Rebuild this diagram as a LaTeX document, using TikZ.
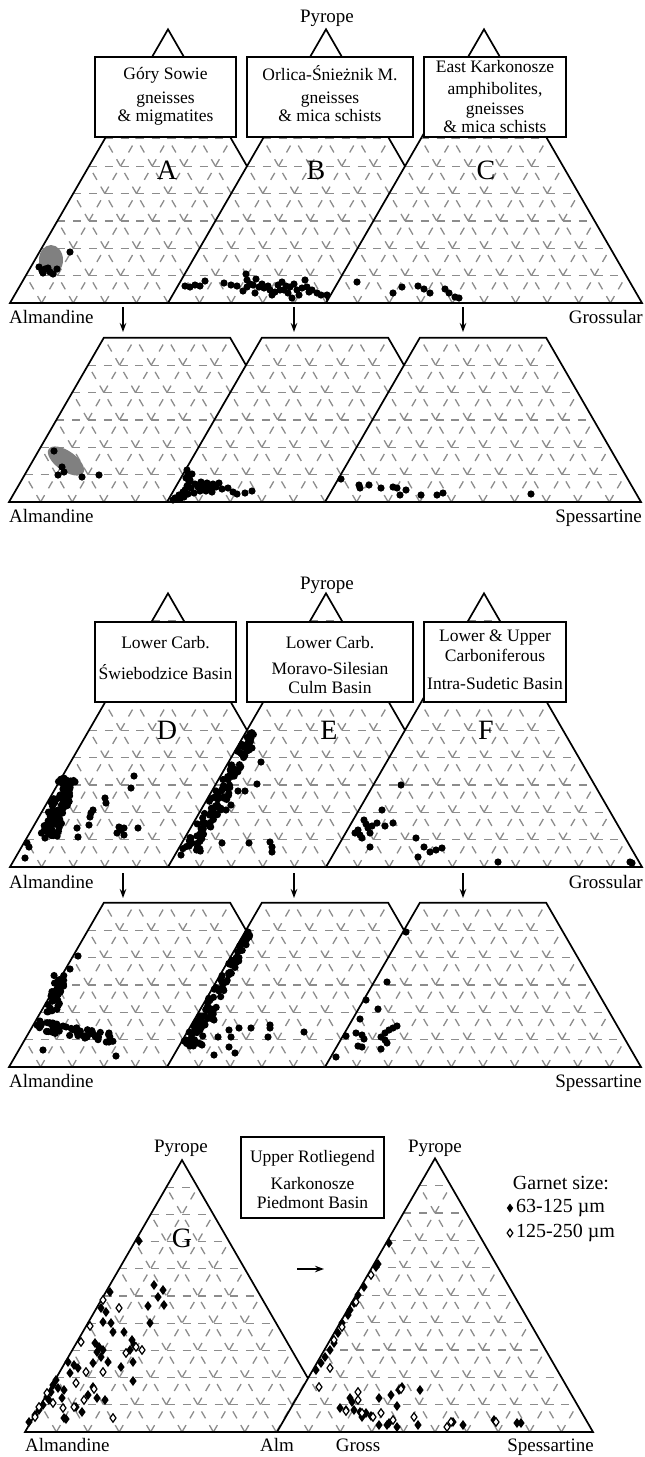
\documentclass[tikz,border=0pt]{standalone}
\usepackage{fontspec}
\setmainfont{Liberation Serif}
\usetikzlibrary{arrows.meta}
% one ternary panel: left corner x, base y, side, visible height fraction
\newcommand\ternpanel[4]{%
  \ifdim#4pt<1pt
    \def\tpath{(#1,#2) -- ++(#3,0) -- ++({-#3*#4/2},{-0.8660254*#3*#4}) -- ++({-#3*(1-#4)},0) -- cycle}%
  \else
    \def\tpath{(#1,#2) -- ++(#3,0) -- ++({-#3/2},{-0.8660254*#3}) -- cycle}%
  \fi
  \fill[white] \tpath;
  \begin{scope}
    \clip \tpath;
    \foreach \k in {1,...,9}{
      \draw[gridl] ({#1+\k*#3/20},{#2-\k*0.08660254*#3}) -- ++({#3*(1-\k/10)},0);
      \draw[gridl] ({#1+\k*#3/10},#2) -- ++({#3*(1-\k/10)/2},{-0.8660254*#3*(1-\k/10)});
      \draw[gridl] ({#1+\k*#3/10},#2) -- ++({-#3*\k/20},{-0.08660254*#3*\k});
    }
  \end{scope}
  \draw[tern] \tpath;
}
\tikzset{
  tern/.style={draw=black,line width=1.7pt,line join=miter},
  gridl/.style={draw=black!45,line width=1.3pt,dash pattern=on 8pt off 7.8pt},
  hull/.style={fill=black!50},
  labl/.style={font=\fontsize{19}{22}\selectfont,inner sep=0pt,text height=12.5pt,text depth=3pt},
  boxtxt/.style={font=\fontsize{17.5}{20}\selectfont,inner sep=0pt,text height=11.5pt,text depth=3pt},
  panel/.style={font=\fontsize{28}{30}\selectfont,inner sep=0pt},
  infobox/.style={draw=black,line width=1.7pt,fill=white,inner sep=0pt},
  arr/.style={line width=1.3pt,-{Stealth[length=9pt,width=6.5pt]}},
}

\begin{document}
\begin{tikzpicture}[x=1pt,y=-1pt]
\useasboundingbox[fill=white] (0,0) rectangle (645,1457);
\pgfmathsetseed{3}

%%% Almandine - Pyrope - Grossular, basement
\ternpanel{10}{303}{316}{1}
\fill[hull] (51,260) ellipse (12pt and 15pt);
\foreach \p in {(70,252),(39,267),(42,271),(45,269),(48,268),(53,274),(57,269),(50,272),(43,273)}
  \fill \p circle (3.6pt);
\ternpanel{168}{303}{316}{1}
\foreach \p in {(185,286),(190,287),(195,285),(200,286),(205,281),(224,283),(231,285),(237,286),(246,274),
  (247,280),(247,287),(250,284),(253,285),(255,293),(259,287),(262,284),(264,288),(268,286),(270,290),
  (272,295),(278,285),(280,290),(282,282),(284,290),(286,286),(288,293),(290,287),(292,298),(294,284),
  (297,290),(299,295),(302,288),(305,280),(307,287),(309,292),(312,290),(317,293),(321,295),(327,295),
  (329,298),(243,291),(256,279),(275,292)}
  \fill \p circle (3.6pt);
\ternpanel{326}{303}{316}{1}
\foreach \p in {(357,282),(393,293),(402,287),(418,286),(424,289),(430,293),(445,289),(449,293),(455,297),(459,298)}
  \fill \p circle (3.6pt);

%%% Almandine - Pyrope - Spessartine, basement
\ternpanel{9}{502}{316}{0.6}
\fill[hull,rotate around={-35:(66,461)}] (66,461) ellipse (21pt and 10pt);
\foreach \p in {(54,451),(62,467),(64,472),(58,475),(82,477),(99,475)}
  \fill \p circle (3.6pt);
\ternpanel{167}{502}{316}{0.6}
\foreach \p in {(187,470),(188,474),(186,478),(189,482),(187,486),(185,490),(188,494),(184,497),(180,499),
  (175,498),(173,500),(191,488),(195,484),(198,487),(201,482),(204,486),(207,483),(210,488),(213,484),
  (216,487),(219,483),(222,489),(200,491),(206,491),(212,492),(194,493),(190,480),(228,488),(233,492),
  (237,494),(245,493),(252,491),(183,492),(179,495),(192,474)}
  \fill \p circle (3.6pt);
\ternpanel{325}{502}{316}{0.6}
\foreach \p in {(341,479),(359,485),(360,488),(369,485),(381,488),(393,487),(397,488),(400,495),(406,490),
  (421,495),(437,495),(443,493),(531,494)}
  \fill \p circle (3.6pt);

%%% Almandine - Pyrope - Grossular, Carboniferous
\ternpanel{10}{867}{316}{1}
\foreach \i in {1,...,100}{
  \pgfmathsetmacro\pa{rnd}\pgfmathsetmacro\pb{rnd}
  \fill ({68-20*\pa+18*(\pb-0.5)},{778+60*\pa}) circle (3.6pt);
}
\foreach \p in {(25,858),(29,847),(27,843),(45,838),(134,776),(131,788),(105,798),(106,803),(93,810),
  (91,813),(90,817),(89,825),(77,828),(78,837),(119,827),(121,830),(124,828),(117,833),(124,835),(138,828)}
  \fill \p circle (3.6pt);
\ternpanel{168}{867}{316}{1}
\foreach \i in {1,...,110}{
  \pgfmathsetmacro\pa{rnd}\pgfmathsetmacro\pb{rnd}
  \fill ({168+0.5774*(135-120*\pa)+3+\pb*(8+16*\pa)},{732+120*\pa}) circle (3.6pt);
}
\foreach \p in {(249,750),(252,748),(261,762),(257,784),(245,791),(238,791),(231,805),(226,810),(222,843),
  (249,843),(270,842),(272,847),(272,852),(198,843),(191,838),(181,855)}
  \fill \p circle (3.6pt);
\ternpanel{326}{867}{316}{1}
\foreach \p in {(401,785),(382,810),(393,823),(385,826),(377,823),(364,820),(358,830),(360,835),(362,838),
  (368,828),(370,833),(355,833),(370,847),(416,838),(424,847),(430,852),(436,850),(442,848),(418,857),
  (498,862),(630,862),(632,863),(366,824),(372,826)}
  \fill \p circle (3.6pt);

%%% Almandine - Pyrope - Spessartine, Carboniferous
\ternpanel{9}{1067}{316}{0.6}
\foreach \i in {1,...,40}{
  \pgfmathsetmacro\pa{rnd}\pgfmathsetmacro\pb{rnd}
  \fill ({60-8*\pa+12*(\pb-0.5)},{975+38*\pa}) circle (3.6pt);
}
\foreach \i in {1,...,50}{
  \pgfmathsetmacro\pa{rnd}\pgfmathsetmacro\pb{rnd}
  \fill ({37+76*\pa},{1020+14*\pa+10*\pb}) circle (3.6pt);
}
\foreach \p in {(78,956),(70,969),(43,1050),(116,1056),(109,1033),(109,1042)}
  \fill \p circle (3.6pt);
\ternpanel{167}{1067}{316}{0.6}
\foreach \i in {1,...,100}{
  \pgfmathsetmacro\pa{rnd}\pgfmathsetmacro\pb{rnd}
  \fill ({167+0.5774*(136-116*\pa)+2+\pb*(5+14*\pa)},{931+116*\pa}) circle (3.6pt);
}
\foreach \p in {(222,982),(210,1010),(214,1020),(229,1030),(239,1028),(251,1028),(270,1025),(270,1028),
  (268,1037),(304,1032),(218,1037),(231,1037),(229,1047),(235,1053),(214,1055),(194,1040),(202,1045),
  (190,1046),(186,1040)}
  \fill \p circle (3.6pt);
\ternpanel{325}{1067}{316}{0.6}
\foreach \p in {(406,932),(387,982),(366,1000),(378,1009),(360,1019),(346,1036),(336,1057),(356,1033),
  (362,1035),(364,1039),(358,1046),(362,1047),(381,1037),(385,1033),(389,1030),(393,1028),(397,1026),
  (387,1043),(381,1049),(385,1040)}
  \fill \p circle (3.6pt);

%%% Upper Rotliegend
\ternpanel{25}{1432}{314}{1}
\foreach \p in {(139,1241),(154,1285),(163,1290),(158,1297),(164,1305),(148,1306),(150,1323),(110,1292),
  (101,1308),(106,1312),(103,1322),(111,1323),(113,1332),(124,1332),(95,1343),(99,1347),(97,1352),
  (103,1350),(101,1357),(108,1362),(93,1363),(132,1340),(134,1345),(130,1350),(133,1362),(121,1367),
  (133,1381),(68,1362),(74,1365),(78,1368),(70,1373),(56,1380),(53,1385),(58,1388),(64,1390),(47,1397),
  (49,1400),(43,1405),(39,1410),(35,1415),(29,1422),(64,1418),(66,1419),(76,1407),(82,1412),(88,1395),
  (97,1398),(105,1400),(93,1387),(62,1398),(51,1392)}
  \fill[shift={\p}] (0,-5) -- (3.6,0) -- (0,5) -- (-3.6,0) -- cycle;
\foreach \p in {(103,1300),(119,1308),(90,1326),(81,1342),(126,1353),(142,1350),(136,1347),(86,1372),
  (103,1372),(76,1383),(94,1389),(84,1400),(53,1403),(63,1408),(74,1407),(39,1407),(47,1393),(113,1418),
  (35,1417)}
  \draw[fill=white,line width=1.2pt,shift={\p}] (0,-4.2) -- (3,0) -- (0,4.2) -- (-3,0) -- cycle;
\ternpanel{277}{1432}{316}{1}
\foreach \p in {(389,1243),(378,1264),(376,1267),(364,1287),(358,1295),(354,1303),(350,1310),(348,1315),
  (342,1323),(338,1333),(334,1343),(330,1350),(325,1357),(321,1363),(316,1370),(350,1398),(352,1402),
  (340,1408),(346,1410),(354,1410),(360,1412),(366,1413),(362,1417),(371,1416),(379,1398),(391,1395),
  (399,1390),(402,1387),(420,1390),(397,1406),(379,1425),(387,1425),(389,1423),(397,1427),(418,1425),
  (453,1422),(463,1425),(494,1420),(517,1423),(521,1423)}
  \fill[shift={\p}] (0,-5) -- (3.6,0) -- (0,5) -- (-3.6,0) -- cycle;
\foreach \p in {(371,1275),(356,1302),(342,1327),(334,1340),(330,1368),(319,1387),(358,1392),(358,1400),
  (346,1411),(362,1413),(373,1417),(381,1413),(393,1420),(401,1389),(414,1417),(447,1427),(451,1422),
  (496,1422)}
  \draw[fill=white,line width=1.2pt,shift={\p}] (0,-4.2) -- (3,0) -- (0,4.2) -- (-3,0) -- cycle;

%%% boxes
\node[infobox,minimum width=141pt,minimum height=80pt] (boxA) at (165.5,97) {};
\node[infobox,minimum width=166pt,minimum height=80pt] (boxB) at (330,97) {};
\node[infobox,minimum width=142pt,minimum height=80pt] (boxC) at (495,97) {};
\node[infobox,minimum width=141pt,minimum height=80pt] (boxD) at (165.5,662) {};
\node[infobox,minimum width=166pt,minimum height=80pt] (boxE) at (330,662) {};
\node[infobox,minimum width=142pt,minimum height=80pt] (boxF) at (495,662) {};
\node[infobox,minimum width=143pt,minimum height=81pt] (boxG) at (312.5,1177.5) {};

\node[boxtxt] (tA1) at (165.5,75) {Góry Sowie};
\node[boxtxt] (tA2) at (165.5,99) {gneisses};
\node[boxtxt] (tA3) at (165.5,117) {\& migmatites};
\node[boxtxt] (tB1) at (330,76) {Orlica-Śnieżnik M.};
\node[boxtxt] (tB2) at (330,99) {gneisses};
\node[boxtxt] (tB3) at (330,117) {\& mica schists};
\node[boxtxt] (tC1) at (495,68) {East Karkonosze};
\node[boxtxt] (tC2) at (495,90) {amphibolites,};
\node[boxtxt] (tC3) at (495,110) {gneisses};
\node[boxtxt] (tC4) at (495,128) {\& mica schists};
\node[boxtxt] (tD1) at (165.5,644) {Lower Carb.};
\node[boxtxt] (tD2) at (165.5,675) {Świebodzice Basin};
\node[boxtxt] (tE1) at (330,644) {Lower Carb.};
\node[boxtxt] (tE2) at (330,670) {Moravo-Silesian};
\node[boxtxt] (tE3) at (330,689) {Culm Basin};
\node[boxtxt] (tF1) at (495,637) {Lower \& Upper};
\node[boxtxt] (tF2) at (495,657) {Carboniferous};
\node[boxtxt] (tF3) at (495,685) {Intra-Sudetic Basin};
\node[boxtxt] (tG1) at (312.5,1158) {Upper Rotliegend};
\node[boxtxt] (tG2) at (312.5,1185) {Karkonosze};
\node[boxtxt] (tG3) at (312.5,1204) {Piedmont Basin};

%%% panel letters
\node[panel] (pA) at (167,170) {A};
\node[panel] (pB) at (316,170) {B};
\node[panel] (pC) at (486,170) {C};
\node[panel] (pD) at (167,730) {D};
\node[panel] (pE) at (329,730) {E};
\node[panel] (pF) at (486,730) {F};
\node[panel] (pG) at (182,1238) {G};

%%% end member labels
\node[labl] (pyr1) at (327,18) {Pyrope};
\node[labl,anchor=west] (alm1) at (9,319) {Almandine};
\node[labl,anchor=east] (gro1) at (643,319) {Grossular};
\node[labl,anchor=west] (alm2) at (9,518) {Almandine};
\node[labl,anchor=east] (sps2) at (642,518) {Spessartine};
\node[labl] (pyr3) at (327,585) {Pyrope};
\node[labl,anchor=west] (alm3) at (9,884) {Almandine};
\node[labl,anchor=east] (gro3) at (643,884) {Grossular};
\node[labl,anchor=west] (alm4) at (9,1083) {Almandine};
\node[labl,anchor=east] (sps4) at (642,1083) {Spessartine};
\node[labl] (pyr5a) at (181,1148) {Pyrope};
\node[labl] (pyr5b) at (435,1148) {Pyrope};
\node[labl,anchor=west] (alm5) at (25,1447) {Almandine};
\node[labl] (alm5b) at (277,1447) {Alm};
\node[labl] (gro5) at (358,1447) {Gross};
\node[labl,anchor=east] (sps5) at (594,1447) {Spessartine};

%%% legend
\node[labl,font=\fontsize{20}{22}\selectfont] (leg) at (561,1185) {Garnet size:};
\node[labl,font=\fontsize{20}{22}\selectfont,anchor=west] (leg1) at (516,1208) {63-125 µm};
\node[labl,font=\fontsize{20}{22}\selectfont,anchor=west] (leg2) at (516,1233) {125-250 µm};
\fill[shift={(510,1208)}] (0,-4.5) -- (3.2,0) -- (0,4.5) -- (-3.2,0) -- cycle;
\draw[fill=white,line width=1.2pt,shift={(510,1233)}] (0,-4) -- (2.8,0) -- (0,4) -- (-2.8,0) -- cycle;

%%% projection arrows
\foreach \x/\n in {123/1,294/2,463/3}{
  \coordinate (up\n) at (\x,307);
  \coordinate (dn\n) at (\x,332);
  \draw[arr] (up\n) -- (dn\n);
  \coordinate (upl\n) at (\x,873);
  \coordinate (dnl\n) at (\x,898);
  \draw[arr] (upl\n) -- (dnl\n);
}
\coordinate (gl) at (297,1269);
\coordinate (gr) at (324,1269);
\draw[arr] (gl) -- (gr);
\end{tikzpicture}
\end{document}
